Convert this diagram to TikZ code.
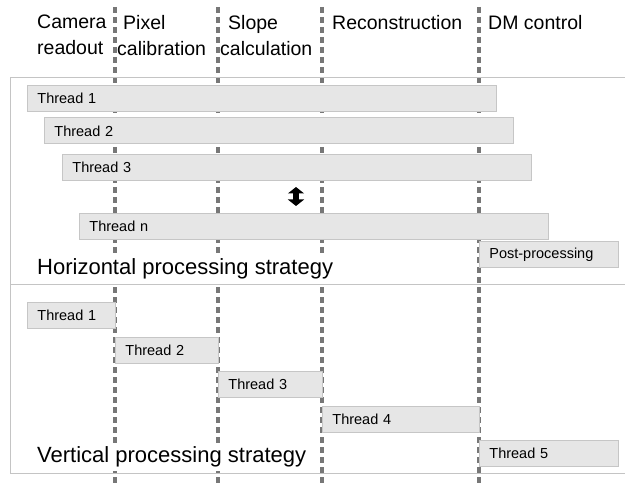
\documentclass[tikz,border=0pt]{standalone}
\usepackage{fontspec}
\setmainfont{Liberation Sans}
\usetikzlibrary{arrows.meta}
\definecolor{boxfill}{HTML}{E6E6E6}
\definecolor{boxline}{HTML}{C6C6C6}
\definecolor{dashc}{HTML}{777777}
\definecolor{framec}{HTML}{C4C4C4}
\begin{document}
\begin{tikzpicture}[x=1pt,y=-1pt,
  bar/.style={draw=boxline, fill=boxfill, line width=0.8pt, anchor=north west,
    minimum height=26pt, inner xsep=10pt, inner ysep=0pt, align=left,
    font=\fontsize{14.5}{16}\selectfont},
  head/.style={anchor=north west, inner sep=0pt, align=left,
    font=\fontsize{19.5}{26}\selectfont},
  strat/.style={anchor=west, fill=white, inner xsep=7pt, inner ysep=4pt,
    font=\fontsize{22}{26}\selectfont},
  colsep/.style={draw=dashc, line width=3.3pt, dash pattern=on 6pt off 4pt},
  framel/.style={draw=framec, line width=0.8pt}]
\useasboundingbox (0,0) rectangle (625,487);
% column separators
\foreach \n/\x in {s1/115, s2/218, s3/322, s4/479}{
  \coordinate (\n t) at (\x,7);
  \coordinate (\n b) at (\x,487);
  \path[colsep] (\n t) -- (\n b);
}
% frame
\coordinate (f1) at (625,77);
\coordinate (f2) at (10,77);
\coordinate (f3) at (10,473);
\coordinate (f4) at (625,473);
\coordinate (m1) at (10,284.5);
\coordinate (m2) at (625,284.5);
\path[framel] (f1) -- (f2) -- (f3) -- (f4);
\path[framel] (m1) -- (m2);
% headings
\node[head] (hA) at (37,15) {Camera\\readout};
\node[head] (hB) at (117,15) {\hspace*{6pt}Pixel\\calibration};
\node[head] (hC) at (220,15) {\hspace*{8pt}Slope\\calculation};
\node[head] (hD) at (332,15) {Reconstruction};
\node[head] (hE) at (488,15) {DM control};
% horizontal strategy
\node[bar, text width=449pt] (t1) at (27,85) {Thread 1};
\node[bar, text width=449pt] (t2) at (44,117.5) {Thread 2};
\node[bar, text width=449pt] (t3) at (62,154) {Thread 3};
\node[bar, text width=449pt] (tn) at (79,212.5) {Thread n};
\node[bar, text width=119pt] (pp) at (479,241) {Post-processing};
\coordinate (a1) at (296,187);
\coordinate (a2) at (296,206);
\draw[line width=5.5pt, {Triangle[length=6.5pt,width=16pt]}-{Triangle[length=6.5pt,width=16pt]}] (a1) -- (a2);
\node[strat] (hs) at (30,269) {Horizontal processing strategy};
% vertical strategy
\node[bar, text width=68pt] (v1) at (27,302) {Thread 1};
\node[bar, text width=83pt] (v2) at (115,337) {Thread 2};
\node[bar, text width=84pt] (v3) at (218,371) {Thread 3};
\node[bar, text width=137pt] (v4) at (322,405.5) {Thread 4};
\node[bar, text width=119pt] (v5) at (479,440) {Thread 5};
\node[strat] (vs) at (30,457) {Vertical processing strategy};
\end{tikzpicture}
\end{document}
